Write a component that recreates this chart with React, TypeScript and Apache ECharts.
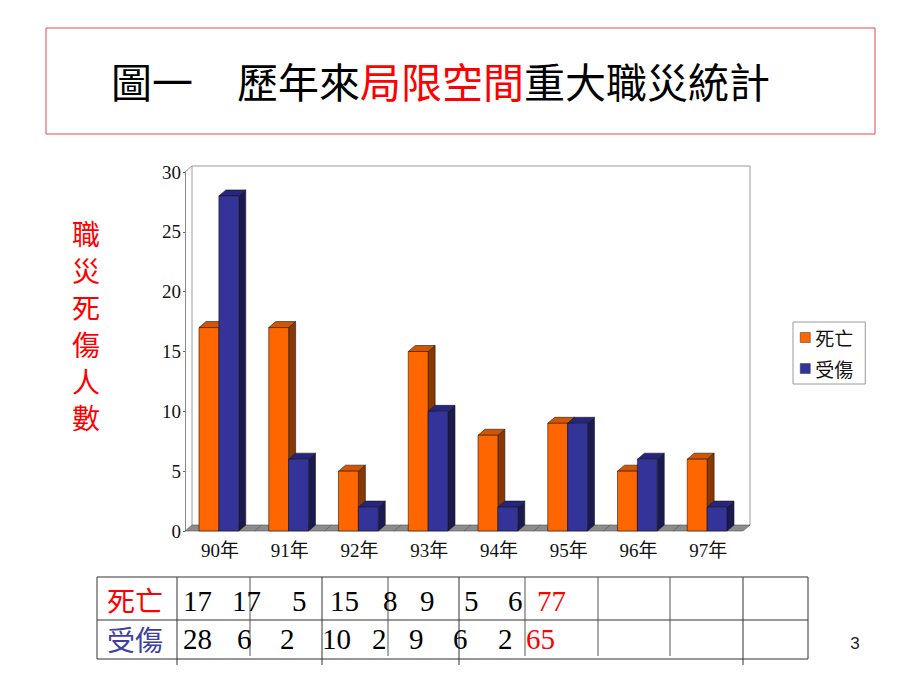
import React, { useEffect, useRef } from 'react';
import * as echarts from 'echarts';

// ---- data ----
const categories = ['90年', '91年', '92年', '93年', '94年', '95年', '96年', '97年'];
const deaths = [17, 17, 5, 15, 8, 9, 5, 6];
const injuries = [28, 6, 2, 10, 2, 9, 6, 2];
const totals = [77, 65];
const seriesNames = ['死亡', '受傷'];
const yAxisTitle = '職災死傷人數';
const titleLead = '圖一';
const titleA = '歷年來';
const titleB = '局限空間';
const titleC = '重大職災統計';

// ---- layout (not data) ----
const GL = 185, GT = 172, GW = 558, GH = 359;
const GR = GL + GW, GB = GT + GH;
const DX = 7, DY = -6;
const row1X = [183, 232, 292, 330, 383, 420, 464, 508, 537];
const row2X = [183, 237, 280, 322, 372, 409, 453, 498, 526];
const colLines = [97, 177, 250, 322, 388, 459, 525, 598, 670, 743, 808];
const longCols = [177, 322, 459, 743];

const SERIF = '"Liberation Serif", "Noto Sans CJK TC", serif';
const CJK = '"Noto Sans CJK TC", "Liberation Serif", sans-serif';

const palettes = [
  { front: '#ff6600', top: '#d45500', side: '#8a3800' },
  { front: '#333399', top: '#262680', side: '#1a1a50' },
];

function barRenderer(idx: number) {
  const c = palettes[idx];
  return (params: any, api: any) => {
    const cat = api.value(0);
    const v = api.value(1);
    const base = api.coord([cat, 0]);
    const topP = api.coord([cat, v]);
    const cx = base[0], by = base[1], ty = topP[1];
    const band = api.size([1, 0])[0];
    const w = band * 0.285;
    const x0 = idx === 0 ? cx - w - 1 : cx - 1;
    const x1 = x0 + w;
    const st = { stroke: '#1a1a1a', lineWidth: 0.6 };
    return {
      type: 'group',
      children: [
        { type: 'polygon', shape: { points: [[x1, ty], [x1 + DX, ty + DY], [x1 + DX, by + DY], [x1, by]] }, style: { fill: c.side, ...st } },
        { type: 'polygon', shape: { points: [[x0, ty], [x1, ty], [x1 + DX, ty + DY], [x0 + DX, ty + DY]] }, style: { fill: c.top, ...st } },
        { type: 'rect', shape: { x: x0, y: ty, width: w, height: by - ty }, style: { fill: c.front, ...st } },
      ],
    };
  };
}

function floorRenderer(params: any, api: any) {
  const cat = api.value(0);
  const p = api.coord([cat, 0]);
  const band = api.size([1, 0])[0];
  const x0 = p[0] - band / 2, x1 = p[0] + band / 2, y = p[1];
  return {
    type: 'polygon',
    shape: { points: [[x0, y], [x1, y], [x1 + DX, y + DY], [x0 + DX, y + DY]] },
    style: { fill: '#8c8c8c', stroke: '#555', lineWidth: 0.6 },
  };
}

export default function App() {
  const ref = useRef<HTMLDivElement>(null);
  useEffect(() => {
    if (!ref.current) return;
    const chart = echarts.init(ref.current, undefined, { renderer: 'svg' });

    const graphics: any[] = [];
    // title box
    graphics.push({ type: 'rect', shape: { x: 46, y: 28, width: 829, height: 106 }, style: { fill: 'none', stroke: '#e04848', lineWidth: 1 }, z: 0 });
    graphics.push({ type: 'text', x: 111, y: 80, style: { text: titleLead, fontSize: 41, fontFamily: CJK, fill: '#000', align: 'left', verticalAlign: 'middle' } });
    graphics.push({
      type: 'text', x: 237, y: 80,
      style: {
        text: `{k|${titleA}}{r|${titleB}}{k|${titleC}}`,
        fontSize: 41, fontFamily: CJK, align: 'left', verticalAlign: 'middle',
        rich: { k: { fill: '#000', fontSize: 41, fontFamily: CJK }, r: { fill: '#ff0000', fontSize: 41, fontFamily: CJK } },
      },
    });
    // y axis title (vertical)
    graphics.push({
      type: 'text', x: 86, y: 215,
      style: { text: yAxisTitle.split('').join('\n'), fontSize: 28, lineHeight: 36.8, fontFamily: CJK, fill: '#ff0000', align: 'center', verticalAlign: 'top' },
    });
    // 3D back frame and wall
    graphics.push({ type: 'polyline', shape: { points: [[GL + DX, GB + DY], [GL + DX, GT + DY], [GR + DX, GT + DY], [GR + DX, GB + DY]] }, style: { fill: 'none', stroke: '#9a9a9a', lineWidth: 1 }, z: 0 });
    graphics.push({ type: 'line', shape: { x1: GL, y1: GT, x2: GL + DX, y2: GT + DY }, style: { stroke: '#9a9a9a', lineWidth: 1 }, z: 0 });

    // table
    graphics.push({ type: 'line', shape: { x1: 97, y1: 577, x2: 808, y2: 577 }, style: { stroke: '#333', lineWidth: 1 } });
    graphics.push({ type: 'line', shape: { x1: 97, y1: 620, x2: 808, y2: 620 }, style: { stroke: '#333', lineWidth: 1 } });
    graphics.push({ type: 'line', shape: { x1: 97, y1: 659, x2: 808, y2: 659 }, style: { stroke: '#333', lineWidth: 1 } });
    colLines.forEach((x) => {
      const long = longCols.includes(x);
      const isEdge = x === 97 || x === 808;
      graphics.push({ type: 'line', shape: { x1: x, y1: 577, x2: x, y2: long ? 665 : isEdge ? 659 : 656 }, style: { stroke: isEdge || long ? '#333' : '#555', lineWidth: 1 } });
    });
    graphics.push({ type: 'text', x: 107, y: 600, style: { text: seriesNames[0], fontSize: 28, fontFamily: CJK, fill: '#ff0000', align: 'left', verticalAlign: 'middle' } });
    graphics.push({ type: 'text', x: 107, y: 639, style: { text: seriesNames[1], fontSize: 28, fontFamily: CJK, fill: '#3f3fa0', align: 'left', verticalAlign: 'middle' } });
    const rows = [deaths, injuries];
    const rowX = [row1X, row2X];
    const rowY = [601, 639];
    rows.forEach((vals, r) => {
      vals.forEach((v, i) => {
        graphics.push({ type: 'text', x: rowX[r][i], y: rowY[r], style: { text: String(v), fontSize: 29, fontFamily: SERIF, fill: '#000', align: 'left', verticalAlign: 'middle' } });
      });
      graphics.push({ type: 'text', x: rowX[r][vals.length], y: rowY[r], style: { text: String(totals[r]), fontSize: 29, fontFamily: SERIF, fill: '#ff0000', align: 'left', verticalAlign: 'middle' } });
    });
    // page number
    graphics.push({ type: 'text', x: 855, y: 643, style: { text: '3', fontSize: 17, fontFamily: '"Liberation Sans", Arial, sans-serif', fill: '#222', align: 'center', verticalAlign: 'middle' } });

    chart.setOption({
      animation: false,
      backgroundColor: '#ffffff',
      grid: { left: GL, top: GT, width: GW, height: GH, containLabel: false },
      legend: {
        orient: 'vertical',
        left: 793,
        top: 322,
        padding: [6, 12, 6, 7],
        itemGap: 12,
        itemWidth: 10,
        itemHeight: 10,
        borderColor: '#9a9a9a',
        borderWidth: 1,
        backgroundColor: '#fff',
        icon: 'rect',
        textStyle: { fontSize: 19, fontFamily: CJK, color: '#111' },
        data: [
          { name: seriesNames[0], itemStyle: { color: palettes[0].front, borderColor: '#333', borderWidth: 0.5 } },
          { name: seriesNames[1], itemStyle: { color: palettes[1].front, borderColor: '#333', borderWidth: 0.5 } },
        ],
      },
      xAxis: {
        type: 'category',
        data: categories,
        axisLine: { show: false },
        axisTick: { show: false },
        axisLabel: { fontSize: 19, fontFamily: SERIF, color: '#111', margin: 10 },
        splitLine: { show: false },
      },
      yAxis: {
        type: 'value',
        min: 0,
        max: 30,
        interval: 5,
        axisLine: { show: true, lineStyle: { color: '#8a8a8a', width: 1 } },
        axisTick: { show: true, length: 2, lineStyle: { color: '#666' } },
        axisLabel: { fontSize: 19, fontFamily: SERIF, color: '#111', margin: 4 },
        splitLine: { show: false },
      },
      series: [
        {
          type: 'custom',
          name: '_floor',
          renderItem: floorRenderer,
          data: categories.map((c, i) => [i, 0]),
          encode: { x: 0, y: 1 },
          z: 1,
          silent: true,
        },
        {
          type: 'custom',
          name: seriesNames[0],
          renderItem: barRenderer(0),
          itemStyle: { color: palettes[0].front },
          data: categories.map((c, i) => [i, deaths[i]]),
          encode: { x: 0, y: 1 },
          z: 2,
        },
        {
          type: 'custom',
          name: seriesNames[1],
          renderItem: barRenderer(1),
          itemStyle: { color: palettes[1].front },
          data: categories.map((c, i) => [i, injuries[i]]),
          encode: { x: 0, y: 1 },
          z: 3,
        },
      ],
      graphic: graphics,
    });
    return () => chart.dispose();
  }, []);
  return <div ref={ref} style={{ position: 'absolute', left: 0, top: 0, width: 920, height: 690 }} />;
}
